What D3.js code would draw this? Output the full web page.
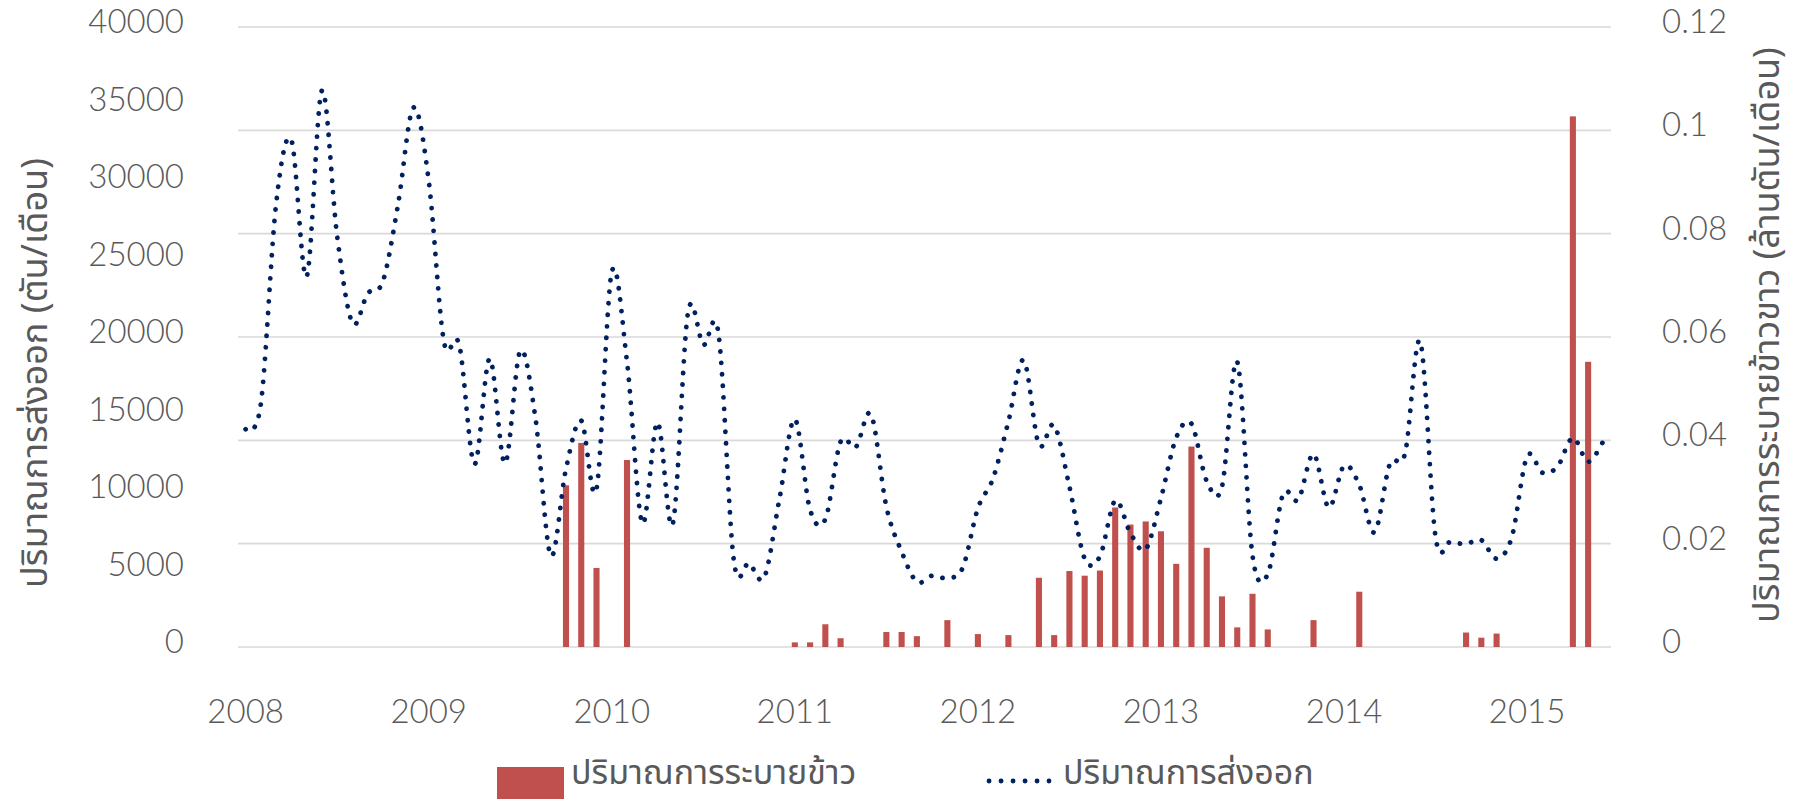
<!DOCTYPE html>
<html><head><meta charset="utf-8">
<script src="https://cdn.jsdelivr.net/npm/d3@7"></script>
<style>
html,body{margin:0;padding:0;background:#fff;overflow:hidden;}
svg text{fill:#595959;}
.num{font-family:Lato,"Open Sans",sans-serif;font-weight:300;font-size:33px;}
.thai{font-family:"Noto Sans Thai","Noto Sans Thai UI","Leelawadee UI",Tahoma,"Noto Sans",sans-serif;font-size:36px;}
.leg{font-family:"Noto Sans Thai","Noto Sans Thai UI","Leelawadee UI",Tahoma,"Noto Sans",sans-serif;font-size:34px;}
</style></head><body>
<svg id="chart" width="1801" height="799"></svg>
<script>
const months = [
 "2008-01","2008-02","2008-03","2008-04","2008-05","2008-06","2008-07","2008-08","2008-09","2008-10","2008-11","2008-12",
 "2009-01","2009-02","2009-03","2009-04","2009-05","2009-06","2009-07","2009-08","2009-09","2009-10","2009-11","2009-12",
 "2010-01","2010-02","2010-03","2010-04","2010-05","2010-06","2010-07","2010-08","2010-09","2010-10","2010-11","2010-12",
 "2011-01","2011-02","2011-03","2011-04","2011-05","2011-06","2011-07","2011-08","2011-09","2011-10","2011-11","2011-12",
 "2012-01","2012-02","2012-03","2012-04","2012-05","2012-06","2012-07","2012-08","2012-09","2012-10","2012-11","2012-12",
 "2013-01","2013-02","2013-03","2013-04","2013-05","2013-06","2013-07","2013-08","2013-09","2013-10","2013-11","2013-12",
 "2014-01","2014-02","2014-03","2014-04","2014-05","2014-06","2014-07","2014-08","2014-09","2014-10","2014-11","2014-12",
 "2015-01","2015-02","2015-03","2015-04","2015-05","2015-06"
];
const yearTickMonths = ["2008-01","2009-01","2010-01","2011-01","2012-01","2013-01","2014-01","2015-01"];
const yearLabels = ["2008","2009","2010","2011","2012","2013","2014","2015"];

// export volume (tons / month), left axis
const exportVolume = [
 14050,15700,28600,32700,23900,35900,26500,20900,22800,23600,28600,34800,
 30100,19700,19500,11800,18600,11850,19100,14750,5900,11500,14600,10200,
 24200,18400,8000,14500,7950,21600,19500,20200,5600,5400,4500,9600,
 14700,8850,8250,13250,12900,15000,9050,6150,4200,4600,4450,5100,
 8950,10900,14550,18500,13050,14300,10350,5700,5850,9450,7350,6300,
 9600,13500,14400,10700,10350,18400,5900,4700,9850,9500,12450,9000,
 11700,10450,7400,11800,12500,19700,7100,6800,6650,6900,5700,7100,
 12300,11250,11650,13500,11950,13300
];
// rice release (million tons / month), right axis
const riceRelease = [
 null,null,null,null,null,null,null,null,null,null,null,null,
 null,null,null,null,null,null,null,null,null,0.0313,0.0395,0.0153,
 null,0.0362,null,null,null,null,null,null,null,null,null,null,
 0.0009,0.0009,0.0044,0.0017,null,null,0.0029,0.0029,0.0021,null,0.0052,null,
 0.0025,null,0.0023,null,0.0134,0.0023,0.0147,0.0138,0.0148,0.0270,0.0237,0.0243,
 0.0224,0.0161,0.0388,0.0192,0.0098,0.0038,0.0103,0.0034,null,null,0.0052,null,
 null,0.0107,null,null,null,null,null,null,0.0028,0.0018,0.0026,null,
 null,null,null,0.1027,0.0552,null
];
const leftTicks = [0,5000,10000,15000,20000,25000,30000,35000,40000];
const rightTicks = [0,0.02,0.04,0.06,0.08,0.10,0.12];
const rightTickLabels = ["0","0.02","0.04","0.06","0.08","0.1","0.12"];
const leftTitle = "ปริมาณการส่งออก (ตัน/เดือน)";
const rightTitle = "ปริมาณการระบายข้าวขาว (ล้านตัน/เดือน)";
const legendLabels = ["ปริมาณการระบายข้าว","ปริมาณการส่งออก"];

const svg = d3.select("#chart");
const plot = {left:238, right:1611, top:27, bottom:647};

const x = d3.scaleBand().domain(months).range([plot.left, plot.right]).paddingInner(0).paddingOuter(0);
const yL = d3.scaleLinear().domain([0,40000]).range([plot.bottom, plot.top]);
const yR = d3.scaleLinear().domain([0,0.12]).range([plot.bottom, plot.top]);

// gridlines (at secondary axis ticks)
svg.append("g").selectAll("line").data(rightTicks).join("line")
  .attr("x1", plot.left).attr("x2", plot.right)
  .attr("y1", d=>yR(d)).attr("y2", d=>yR(d))
  .attr("stroke", "#D9D9D9").attr("stroke-width", 1.6);

// bars
const barW = x.bandwidth()/2.5;
svg.append("g").selectAll("rect")
  .data(months.map((m,i)=>({m, v:riceRelease[i]})).filter(d=>d.v!=null))
  .join("rect")
  .attr("x", d=>x(d.m)+x.bandwidth()/2-barW/2)
  .attr("width", barW)
  .attr("y", d=>yR(d.v))
  .attr("height", d=>yR(0)-yR(d.v))
  .attr("fill", "#C0504D");

// line
const line = d3.line()
  .x((d,i)=>x(months[i])+x.bandwidth()/2)
  .y(d=>yL(d))
  .curve(d3.curveCardinal.tension(0));
svg.append("path").datum(exportVolume)
  .attr("d", line)
  .attr("fill","none")
  .attr("stroke","#002060")
  .attr("stroke-width",4.8)
  .attr("stroke-linecap","round")
  .attr("stroke-dasharray","0.1 11.4");

// left axis
const axL = d3.axisLeft(yL).tickValues(leftTicks).tickSize(0).tickPadding(0).tickFormat(d3.format("d"));
const gL = svg.append("g").attr("transform","translate(184,-5)").call(axL);
gL.select(".domain").remove();
gL.selectAll("text").attr("class","num").attr("fill","#595959");

// right axis
const axR = d3.axisRight(yR).tickValues(rightTicks).tickSize(0).tickPadding(0).tickFormat((d,i)=>rightTickLabels[i]);
const gR = svg.append("g").attr("transform","translate(1662,-5)").call(axR);
gR.select(".domain").remove();
gR.selectAll("text").attr("class","num").attr("fill","#595959");

// bottom axis
const axB = d3.axisBottom(x).tickValues(yearTickMonths).tickSize(0).tickPadding(0)
  .tickFormat(d=>yearLabels[yearTickMonths.indexOf(d)]);
const gB = svg.append("g").attr("transform","translate(0,700)").call(axB);
gB.select(".domain").remove();
gB.selectAll("text").attr("class","num").attr("fill","#595959").attr("dy","0.71em");

// axis titles
svg.append("text").attr("class","thai")
  .attr("transform","translate(47,373) rotate(-90)")
  .attr("text-anchor","middle").text(leftTitle);
svg.append("text").attr("class","thai")
  .attr("transform","translate(1779,335) rotate(-90)")
  .attr("text-anchor","middle").text(rightTitle);

// legend
const lg = svg.append("g");
lg.append("rect").attr("x",497).attr("y",767).attr("width",67).attr("height",32).attr("fill","#C0504D");
lg.append("text").attr("class","leg").attr("x",571).attr("y",784).text(legendLabels[0]);
lg.append("line").attr("x1",989).attr("x2",1049).attr("y1",781).attr("y2",781)
  .attr("stroke","#002060").attr("stroke-width",4.8).attr("stroke-linecap","round").attr("stroke-dasharray","0.1 11.9");
lg.append("text").attr("class","leg").attr("x",1063).attr("y",784).text(legendLabels[1]);
</script>
</body></html>
